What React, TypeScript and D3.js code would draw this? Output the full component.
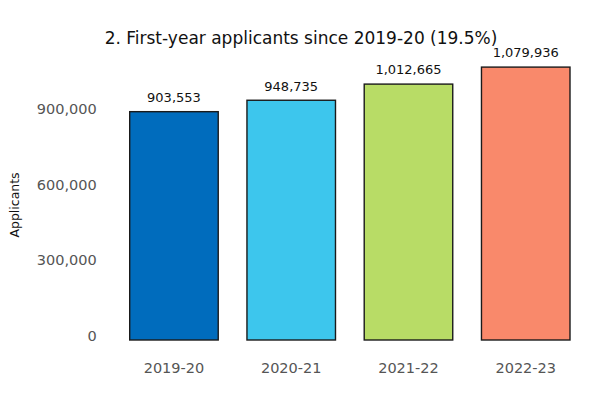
import * as React from "react";
import * as d3 from "d3";

const categories = ["2019-20", "2020-21", "2021-22", "2022-23"];
const applicants = [903553, 948735, 1012665, 1079936];
const barColors = ["#006cbd", "#3dc6ed", "#b8dc66", "#f9896b"];
const yTicks = [0, 300000, 600000, 900000];
const title = "2. First-year applicants since 2019-20 (19.5%)";

const width = 589;
const height = 394;
const font = "DejaVu Sans, sans-serif";

export default function App() {
	const baseline = 340;
	const xScale = React.useMemo(
		() =>
			d3
				.scaleBand<string>()
				.domain(categories)
				.range([129.7, 570])
				.paddingInner(0.245)
				.paddingOuter(0),
		[]
	);
	const yScale = React.useMemo(
		() => d3.scaleLinear([0, 1079936], [baseline, 67.1]),
		[]
	);
	const fmt = d3.format(",");
	const bw = xScale.bandwidth();

	return (
		<svg
			width={width}
			height={height}
			style={{ position: "fixed", left: 0, top: 0, background: "white" }}
			fontFamily={font}
		>
			<text x={301} y={44} fontSize={17} textAnchor="middle" fill="#111">
				{title}
			</text>
			<text
				transform={`translate(18.5 205) rotate(-90)`}
				fontSize={12.5}
				textAnchor="middle"
				fill="#111"
			>
				Applicants
			</text>
			{yTicks.map((t) => (
				<text
					key={t}
					x={96.7}
					y={yScale(t) + 1.3}
					fontSize={14.5}
					textAnchor="end"
					fill="#555"
				>
					{fmt(t)}
				</text>
			))}
			{categories.map((c, i) => {
				const x = xScale(c)!;
				const y = yScale(applicants[i]);
				return (
					<g key={c}>
						<rect
							x={x}
							y={y}
							width={bw}
							height={baseline - y}
							fill={barColors[i]}
							stroke="#1a1a1a"
							strokeWidth={1.4}
						/>
						<text
							x={x + bw / 2}
							y={y - 9.7}
							fontSize={13}
							textAnchor="middle"
							fill="#111"
						>
							{fmt(applicants[i])}
						</text>
						<text
							x={x + bw / 2}
							y={373}
							fontSize={14.5}
							textAnchor="middle"
							fill="#555"
						>
							{c}
						</text>
					</g>
				);
			})}
		</svg>
	);
}
